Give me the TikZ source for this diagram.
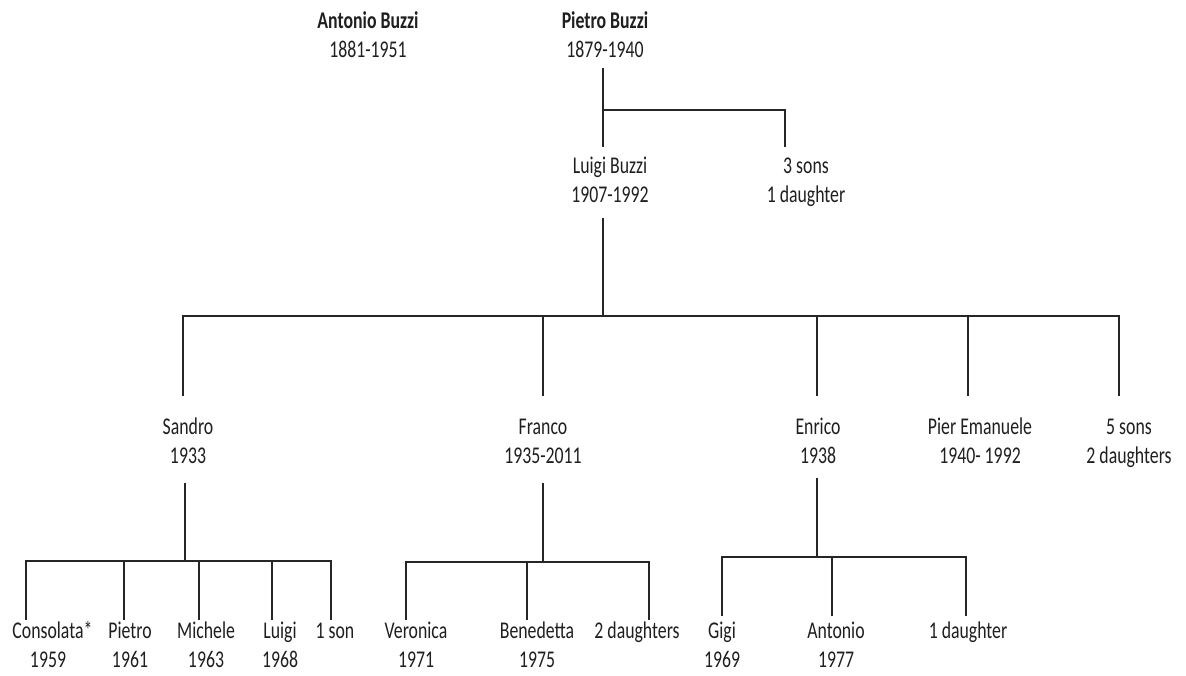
\documentclass[tikz,border=0pt]{standalone}
\usepackage{fontspec}
\setmainfont{Carlito}
\usepackage{graphicx}
\newcommand{\pn}[1]{\scalebox{0.74}[1]{\begin{tabular}[b]{@{}c@{}}#1\end{tabular}}}
\begin{document}
\begin{tikzpicture}[x=1pt,y=-1pt,
  person/.style={inner sep=0pt, anchor=base, font=\fontsize{24}{29}\selectfont, text=black!88},
  link/.style={line width=1.4pt, black!85}]
\useasboundingbox (0,0) rectangle (1186,675);
\fill[white] (0,0) rectangle (1186,675);
% generation 1
\node[person] (antonio) at (368,57) {\pn{\textbf{Antonio Buzzi}\\1881-1951}};
\node[person] (pietro) at (605,57) {\pn{\textbf{Pietro Buzzi}\\1879-1940}};
% generation 2
\node[person] (luigi) at (610,202) {\pn{Luigi Buzzi\\1907-1992}};
\node[person] (others3) at (806,202) {\pn{3 sons\\1 daughter}};
% generation 3
\node[person] (sandro) at (188,463) {\pn{Sandro\\1933}};
\node[person] (franco) at (543,463) {\pn{Franco\\1935-2011}};
\node[person] (enrico) at (818,463) {\pn{Enrico\\1938}};
\node[person] (pier) at (980,463) {\pn{Pier Emanuele\\1940- 1992}};
\node[person] (others5) at (1129,463) {\pn{5 sons\\2 daughters}};
% generation 4
\node[person] (consolata) at (48,667) {\pn{Consolata\rlap{*}\\1959}};
\node[person] (pietroj) at (130,667) {\pn{Pietro\\1961}};
\node[person] (michele) at (206,667) {\pn{Michele\\1963}};
\node[person] (luigij) at (280,667) {\pn{Luigi\\1968}};
\node[person] (son1) at (335,638) {\pn{1 son}};
\node[person] (veronica) at (416,667) {\pn{Veronica\\1971}};
\node[person] (benedetta) at (537,667) {\pn{Benedetta\\1975}};
\node[person] (daught2) at (637,638) {\pn{2 daughters}};
\node[person] (gigi) at (722,667) {\pn{Gigi\\1969}};
\node[person] (antonioj) at (836,667) {\pn{Antonio\\1977}};
\node[person] (daught1) at (968,638) {\pn{1 daughter}};

% connector end points
\coordinate (pietroB) at (603,68);
\coordinate (pietroJ) at (603,110);
\coordinate (luigiT) at (603,147);
\coordinate (oth3T) at (785,147);
\coordinate (luigiB) at (603,218);
\coordinate (luigiJ) at (603,316);
\coordinate (sandroT) at (183,396);
\coordinate (francoT) at (543,396);
\coordinate (enricoT) at (817,396);
\coordinate (pierT) at (968,396);
\coordinate (oth5T) at (1119,396);
\coordinate (sandroB) at (185,483);
\coordinate (sandroJ) at (185,561);
\coordinate (consT) at (26,620);
\coordinate (pietrojT) at (124,620);
\coordinate (micheleT) at (199,620);
\coordinate (luigijT) at (272,620);
\coordinate (son1T) at (331,620);
\coordinate (francoB) at (543,483);
\coordinate (francoJ) at (543,562);
\coordinate (veronicaT) at (406,620);
\coordinate (benedettaT) at (527,620);
\coordinate (daught2T) at (649,620);
\coordinate (enricoB) at (817,478);
\coordinate (enricoJ) at (817,557);
\coordinate (gigiT) at (722,616);
\coordinate (antoniojT) at (832,616);
\coordinate (daught1T) at (966,616);

% Pietro's children
\draw[link] (pietroB) -- (luigiT);
\draw[link] (pietroJ) -| (oth3T);
% Luigi's children
\draw[link] (luigiB) -- (luigiJ);
\draw[link] (sandroT) |- (luigiJ) -| (oth5T);
\draw[link] (francoT) -- (francoT |- luigiJ);
\draw[link] (enricoT) -- (enricoT |- luigiJ);
\draw[link] (pierT) -- (pierT |- luigiJ);
% Sandro's children
\draw[link] (sandroB) -- (sandroJ);
\draw[link] (consT) |- (sandroJ) -| (son1T);
\draw[link] (pietrojT) -- (pietrojT |- sandroJ);
\draw[link] (micheleT) -- (micheleT |- sandroJ);
\draw[link] (luigijT) -- (luigijT |- sandroJ);
% Franco's children
\draw[link] (francoB) -- (francoJ);
\draw[link] (veronicaT) |- (francoJ) -| (daught2T);
\draw[link] (benedettaT) -- (benedettaT |- francoJ);
% Enrico's children
\draw[link] (enricoB) -- (enricoJ);
\draw[link] (gigiT) |- (enricoJ) -| (daught1T);
\draw[link] (antoniojT) -- (antoniojT |- enricoJ);
\end{tikzpicture}
\end{document}
